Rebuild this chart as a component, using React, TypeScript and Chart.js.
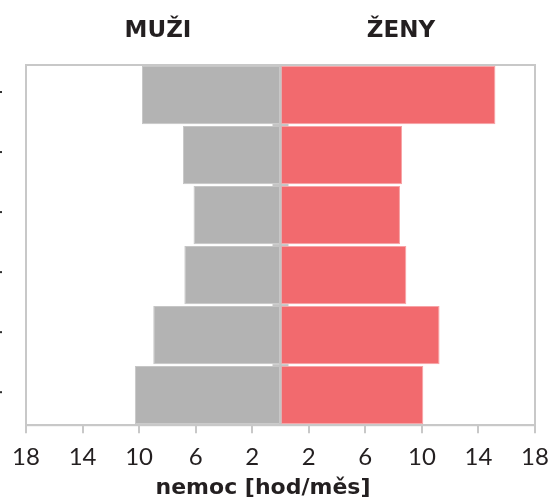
import React, { useEffect, useRef } from "react";
import { Chart, registerables } from "chart.js";

Chart.register(...registerables);

const categories = ["1", "2", "3", "4", "5", "6"];
const menValues = [9.8, 6.9, 6.15, 6.8, 9.0, 10.3];
const womenValues = [15.2, 8.6, 8.45, 8.9, 11.25, 10.1];
const xTicks = [-18, -14, -10, -6, -2, 2, 6, 10, 14, 18];
const leftTitle = "MUŽI";
const rightTitle = "ŽENY";
const axisTitle = "nemoc [hod/měs]";

const FRAME = "#c8c8c8";
const FONT = "Lato, 'Open Sans', sans-serif";
const BOLD_FONT = "'DejaVu Sans', sans-serif";

const decorPlugin = {
  id: "decor",
  afterDatasetsDraw(chart: any) {
    const { ctx, chartArea, scales } = chart;
    const x = scales.x;
    const y = scales.y;
    const zero = x.getPixelForValue(0);
    ctx.save();
    ctx.strokeStyle = "#c4c4c4";
    ctx.lineWidth = 2;
    ctx.beginPath();
    ctx.moveTo(zero, chartArea.top);
    ctx.lineTo(zero, chartArea.bottom);
    ctx.stroke();
    for (let i = 1; i < categories.length; i++) {
      const yb = (y.getPixelForValue(i - 1) + y.getPixelForValue(i)) / 2;
      ctx.beginPath();
      ctx.moveTo(zero - 8, yb);
      ctx.lineTo(zero + 8, yb);
      ctx.stroke();
    }
    ctx.strokeStyle = FRAME;
    ctx.lineWidth = 2;
    ctx.strokeRect(chartArea.left, chartArea.top, chartArea.right - chartArea.left, chartArea.bottom - chartArea.top);
    ctx.fillStyle = "#333";
    for (let i = 0; i < categories.length; i++) {
      const yc = y.getPixelForValue(i);
      ctx.fillRect(0, yc - 4, 2, 2);
    }
    ctx.fillStyle = "#231f20";
    ctx.font = "bold 23px " + BOLD_FONT;
    ctx.textAlign = "center";
    ctx.textBaseline = "alphabetic";
    ctx.fillText(leftTitle, 158, 37);
    ctx.fillText(rightTitle, 401, 37);
    ctx.font = "bold 22px " + BOLD_FONT;
    ctx.fillText(axisTitle, 263, 494);
    ctx.restore();
  },
};

export default function App() {
  const ref = useRef<HTMLCanvasElement | null>(null);
  useEffect(() => {
    if (!ref.current) return;
    const chart = new Chart(ref.current, {
      type: "bar",
      data: {
        labels: categories,
        datasets: [
          {
            label: leftTitle,
            data: menValues.map((v) => -v),
            backgroundColor: "#b3b3b3",
            borderColor: "#c6c6c6",
            borderWidth: 1,
            borderSkipped: false,
            barPercentage: 0.97,
            categoryPercentage: 1,
          },
          {
            label: rightTitle,
            data: womenValues,
            backgroundColor: "#f26a6e",
            borderColor: "#f7a3a6",
            borderWidth: 1,
            borderSkipped: false,
            barPercentage: 0.97,
            categoryPercentage: 1,
          },
        ],
      },
      options: {
        indexAxis: "y",
        responsive: false,
        animation: false,
        layout: { padding: { left: 26, right: 15, top: 65, bottom: 15 } },
        plugins: {
          legend: { display: false },
          tooltip: { enabled: false },
          title: { display: false },
        },
        scales: {
          x: {
            type: "linear",
            min: -18,
            max: 18,
            stacked: true,
            afterBuildTicks: (axis: any) => {
              axis.ticks = xTicks.map((v) => ({ value: v }));
            },
            afterFit: (axis: any) => {
              axis.paddingLeft = 0;
              axis.paddingRight = 0;
            },
            ticks: {
              callback: (v: any) => String(Math.abs(Number(v))),
              font: { family: FONT, size: 24, weight: "normal" },
              color: "#231f20",
              padding: 10,
              maxRotation: 0,
              autoSkip: false,
            },
            grid: {
              drawOnChartArea: false,
              drawTicks: true,
              tickLength: 8,
              color: FRAME,
              lineWidth: 2,
            },
            border: { display: true, color: FRAME, width: 2 },
          },
          y: {
            type: "category",
            stacked: true,
            display: false,
          },
        },
      },
      plugins: [decorPlugin],
    } as any);
    return () => chart.destroy();
  }, []);
  return (
    <div style={{ position: "absolute", left: 0, top: 0, width: 550, height: 497, background: "#fff" }}>
      <canvas ref={ref} width={550} height={497} />
    </div>
  );
}
